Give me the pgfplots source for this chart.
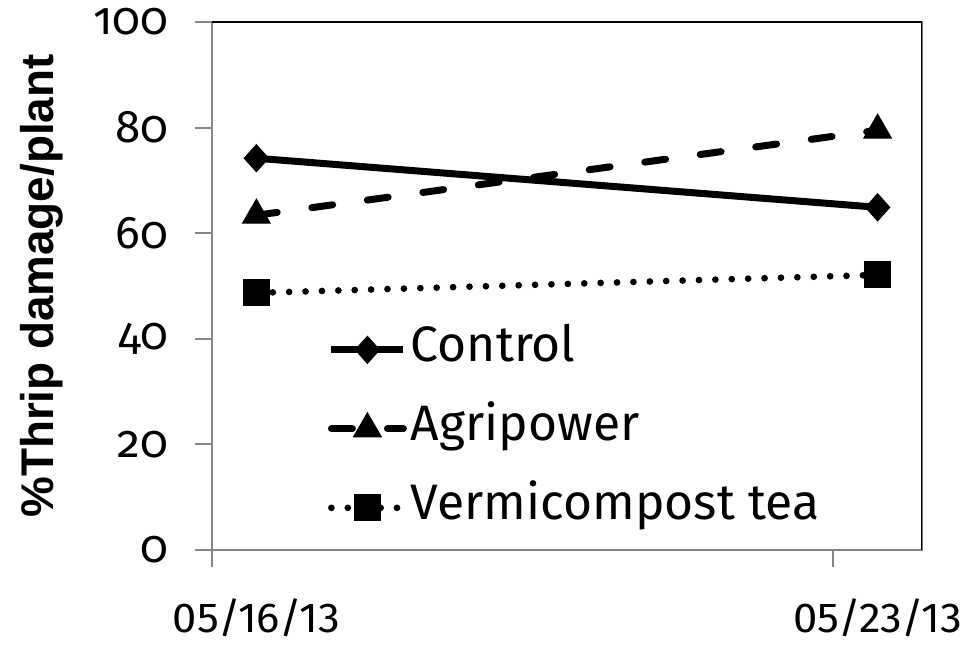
\documentclass[border=0pt]{standalone}
\usepackage{fontspec}
\setmainfont{Fira Sans}
\newfontfamily\ticko[Numbers=OldStyle]{Fira Sans}
\newfontfamily\arialb{Liberation Sans}
\usepackage{pgfplots}
\pgfplotsset{compat=1.18}
\definecolor{axgray}{HTML}{868686}
\begin{document}
\begin{tikzpicture}
\begin{axis}[
  scale only axis, width=710bp, height=528bp,
  xmin=0, xmax=8, ymin=0, ymax=100,
  xtick={0,7}, xticklabels={05/16/13,05/23/13},
  ytick={0,20,40,60,80,100}, yticklabels={0,20,40,60,80,100},
  xtick pos=bottom, ytick pos=left,
  tick align=outside, major tick length=17bp,
  tick style={color=axgray, line width=2bp},
  axis line style={draw=axgray, line width=2bp},
  xticklabel style={font=\fontsize{42}{42}\selectfont, xshift=44.4bp, xscale=1.04, yshift=-28bp},
  yticklabel style={font=\ticko\fontsize{46}{46}\selectfont, xshift=-23bp},
  ylabel={\%Thrip damage/plant},
  ylabel style={font=\arialb\bfseries\fontsize{46}{46}\selectfont, at={(axis description cs:-0.2394,0.5)}, anchor=center},
  legend cell align=left,
  legend image code/.code={\draw[mark repeat=2,mark phase=2,#1] plot coordinates {(0bp,0bp) (36bp,0bp) (72bp,0bp)};},
  legend style={draw=none, fill=none, at={(rel axis cs:0.163,0.034)}, anchor=south west,
    font=\fontsize{50}{50}\selectfont, row sep=31bp, column sep=4bp, inner sep=0pt,
    nodes={inner sep=0pt, text height=36bp, text depth=12bp}},
]
\addplot[black, line width=7bp, mark=diamond*, mark size=13.5bp, mark options={solid, line width=1bp, xscale=1.2}]
  coordinates {(0.5,74.2) (7.5,64.9)};
\addlegendentry{Control}
\addplot[black, line width=7bp, line cap=round, dash pattern=on 21bp off 35bp, mark=triangle*, mark size=16bp, mark options={solid, line width=1bp}]
  coordinates {(0.5,63.4) (7.5,79.5)};
\addlegendentry{Agripower}
\addplot[black, line width=6.7bp, line cap=round, dash pattern=on 0bp off 16.4bp, mark=square*, mark size=13bp, mark options={solid, line width=1bp}]
  coordinates {(0.5,48.7) (7.5,52.1)};
\addlegendentry{Vermicompost tea}
\draw[black, line width=2bp] (rel axis cs:0,1) -- (rel axis cs:1,1) -- (rel axis cs:1,0);
\end{axis}
\pgfresetboundingbox
\useasboundingbox (-212bp,-96bp) rectangle (751bp,550bp);
\end{tikzpicture}
\end{document}
